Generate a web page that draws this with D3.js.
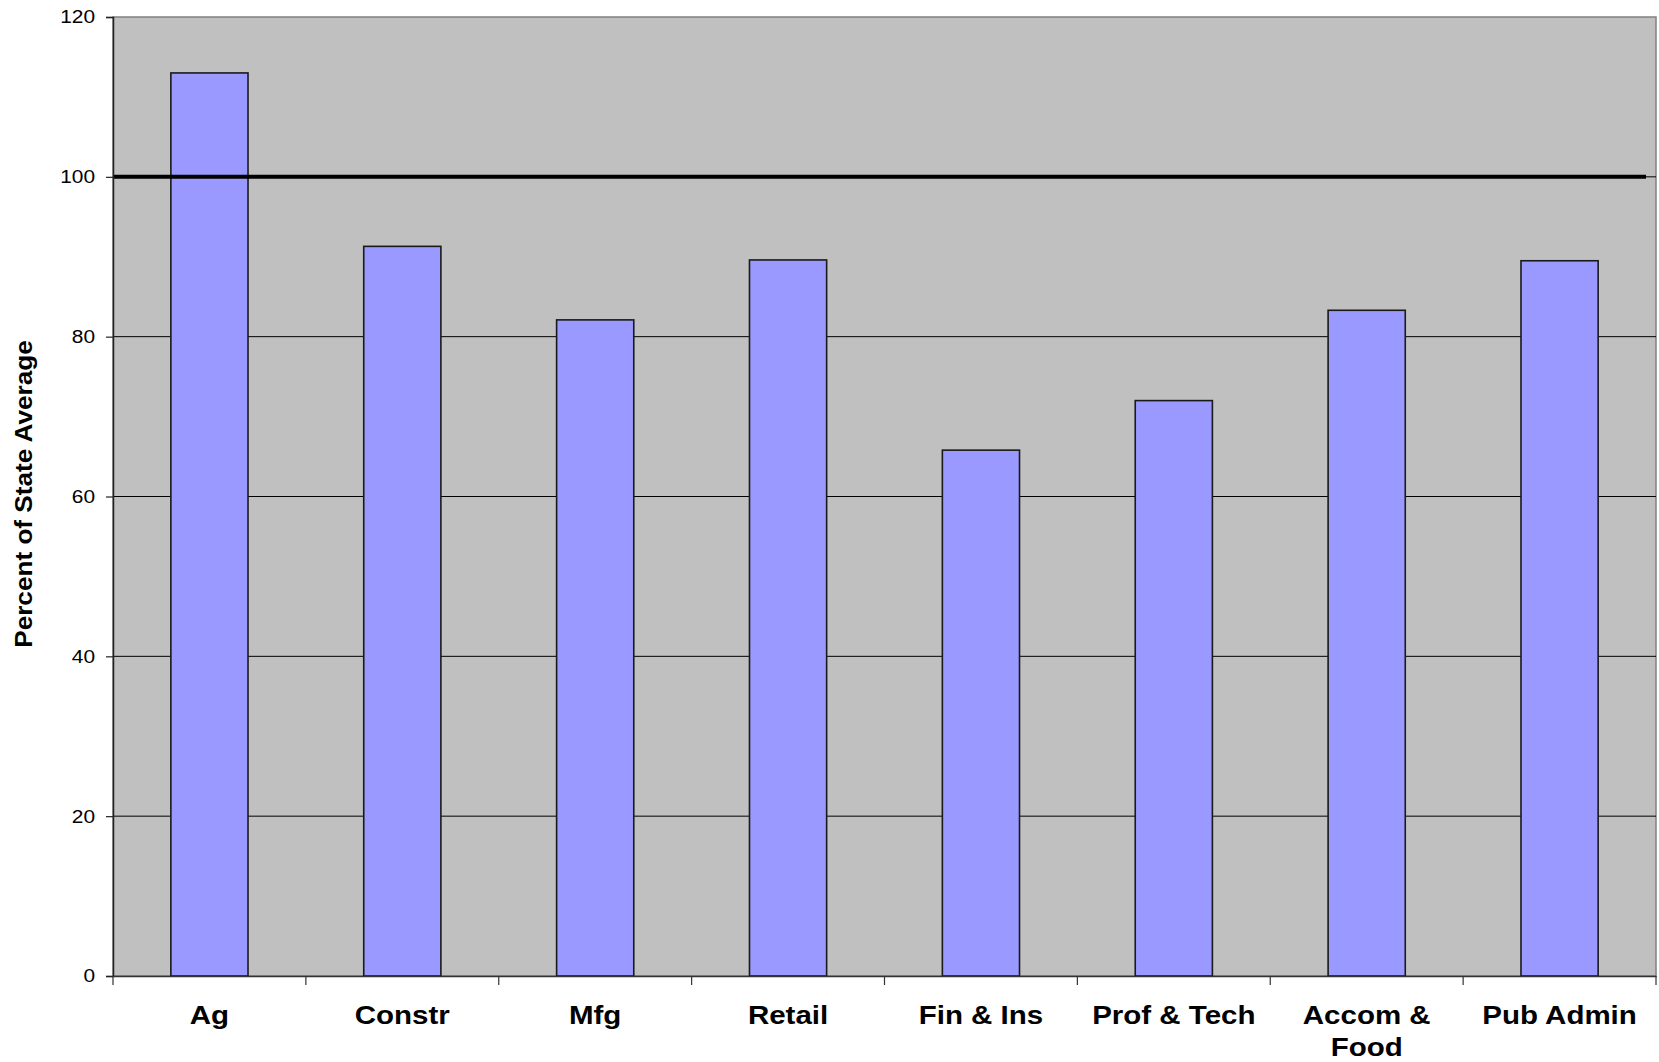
<!DOCTYPE html>
<html>
<head>
<meta charset="utf-8">
<script src="https://cdn.jsdelivr.net/npm/d3@7"></script>
<style>
  html, body { margin: 0; padding: 0; background: #fff; }
  svg { display: block; }
</style>
</head>
<body>
<svg id="chart" width="1659" height="1062"></svg>
<script>
const categories = ["Ag", "Constr", "Mfg", "Retail", "Fin & Ins", "Prof & Tech", "Accom & Food", "Pub Admin"];
const categoryLines = [["Ag"], ["Constr"], ["Mfg"], ["Retail"], ["Fin & Ins"], ["Prof & Tech"], ["Accom &", "Food"], ["Pub Admin"]];
const values = [113, 91.3, 82.1, 89.6, 65.8, 72.0, 83.3, 89.5];
const yTicks = [0, 20, 40, 60, 80, 100, 120];
const referenceValue = 100;
const yLabel = "Percent of State Average";

const svg = d3.select("#chart");
const m = { left: 113, top: 17, right: 1656, bottom: 976 };
const FONT = "Liberation Sans, Arial, sans-serif";

const x = d3.scaleBand().domain(categories).range([m.left, m.right]).paddingInner(0.6).paddingOuter(0.3);
const xb = d3.scaleBand().domain(categories).range([m.left, m.right]).padding(0);
const y = d3.scaleLinear().domain([0, 120]).range([m.bottom, m.top]);

// plot background
svg.append("rect")
  .attr("x", m.left).attr("y", m.top)
  .attr("width", m.right - m.left).attr("height", m.bottom - m.top)
  .attr("fill", "#C0C0C0").attr("stroke", "#808080").attr("stroke-width", 1.5);

// gridlines
svg.append("g").selectAll("line").data(yTicks.filter(t => t > 0 && t < 120)).join("line")
  .attr("x1", m.left).attr("x2", m.right)
  .attr("y1", d => y(d)).attr("y2", d => y(d))
  .attr("stroke", "#000").attr("stroke-width", 1);

// bars
svg.append("g").selectAll("rect").data(values).join("rect")
  .attr("x", (d, i) => x(categories[i]))
  .attr("width", x.bandwidth())
  .attr("y", d => y(d))
  .attr("height", d => y(0) - y(d))
  .attr("fill", "#9999FF").attr("stroke", "#1a1a1a").attr("stroke-width", 1.6);

// reference line
svg.append("line")
  .attr("x1", m.left).attr("x2", m.right - 10)
  .attr("y1", y(referenceValue)).attr("y2", y(referenceValue))
  .attr("stroke", "#000").attr("stroke-width", 4);

// y axis
const yAxis = d3.axisLeft(y).tickValues(yTicks).tickSize(7).tickFormat("");
const gy = svg.append("g").attr("transform", `translate(${m.left},0)`).call(yAxis);
gy.select(".domain").attr("stroke", "#222").attr("stroke-width", 1.5);
gy.selectAll(".tick line").attr("stroke", "#222").attr("stroke-width", 1.2);
gy.selectAll(".tick text").remove();
svg.append("g").selectAll("text").data(yTicks).join("text")
  .attr("transform", d => `translate(95,${y(d)}) scale(1.13,1)`)
  .attr("dy", "0.35em")
  .attr("text-anchor", "end")
  .attr("font-family", FONT).attr("font-size", 18.5).attr("fill", "#000")
  .text(d => d);

// x axis
const xAxis = d3.axisBottom(xb).tickSize(0).tickFormat("");
const gx = svg.append("g").attr("transform", `translate(0,${m.bottom})`).call(xAxis);
gx.select(".domain").attr("stroke", "#333").attr("stroke-width", 1.5);
gx.selectAll(".tick").remove();
const boundaries = categories.map(c => xb(c)).concat([xb(categories[categories.length - 1]) + xb.bandwidth()]);
gx.selectAll("line.sep").data(boundaries).join("line").attr("class", "sep")
  .attr("x1", d => d).attr("x2", d => d).attr("y1", 0).attr("y2", 9)
  .attr("stroke", "#333").attr("stroke-width", 1.2);

// category labels
const labels = svg.append("g");
categories.forEach((c, i) => {
  const cx = xb(c) + xb.bandwidth() / 2;
  const t = labels.append("text")
    .attr("transform", `translate(${cx},1024) scale(1.18,1)`)
    .attr("text-anchor", "middle")
    .attr("font-family", FONT)
    .attr("font-weight", "bold").attr("font-size", 25).attr("fill", "#000");
  categoryLines[i].forEach((line, j) => {
    t.append("tspan").attr("x", 0).attr("dy", j === 0 ? 0 : 32).text(line);
  });
});

// y label
svg.append("text")
  .attr("transform", `translate(32,${(y(0) + y(120)) / 2 - 2.5}) rotate(-90) scale(1.09,1)`)
  .attr("text-anchor", "middle")
  .attr("font-family", FONT)
  .attr("font-weight", "bold").attr("font-size", 24).attr("fill", "#000")
  .text(yLabel);
</script>
</body>
</html>
